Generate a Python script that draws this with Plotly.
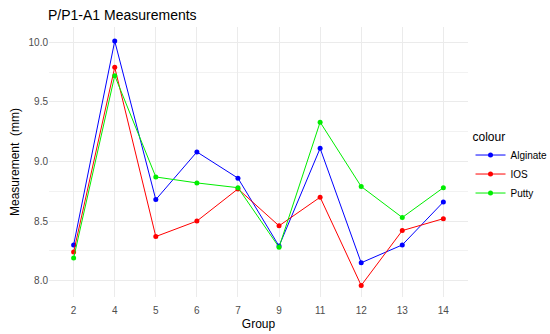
import plotly.graph_objects as go

groups = ["2", "4", "5", "6", "7", "9", "11", "12", "13", "14"]
alginate = [8.30, 10.01, 8.68, 9.08, 8.86, 8.29, 9.11, 8.15, 8.30, 8.66]
ios = [8.24, 9.79, 8.37, 8.50, 8.77, 8.46, 8.70, 7.96, 8.42, 8.52]
putty = [8.19, 9.72, 8.87, 8.82, 8.78, 8.28, 9.33, 8.79, 8.53, 8.78]

series = [("Alginate", alginate, "#0000ff"), ("IOS", ios, "#ff0000"), ("Putty", putty, "#00ee00")]

fig = go.Figure()
for name, vals, col in series:
    fig.add_trace(go.Scatter(x=groups, y=vals, name=name, mode="lines+markers",
                             line=dict(color=col, width=1),
                             marker=dict(color=col, size=5)))

fig.update_layout(
    width=550, height=334,
    margin=dict(l=49, r=82, t=27, b=37, autoexpand=False),
    paper_bgcolor="white", plot_bgcolor="white",
    font=dict(family="Liberation Sans, Arial, sans-serif", color="#000000"),
    title=dict(text="P/P1-A1 Measurements", x=48/550, xanchor="left", y=1-15/334, yanchor="middle",
               font=dict(size=14, color="#000000")),
    legend=dict(title=dict(text="colour", font=dict(size=12)),
                xref="container", yref="container",
                x=0.8555, xanchor="left", y=0.626, yanchor="top",
                font=dict(size=10), tracegroupgap=0, itemwidth=30),
    showlegend=True,
)
fig.update_xaxes(type="category", range=[-0.6, 9.6], showgrid=True, gridcolor="#ebebeb", gridwidth=1,
                 zeroline=False, showline=False, ticks="", tickfont=dict(size=10, color="#4d4d4d"),
                 ticklabelstandoff=6, automargin=False,
                 title=dict(text="Group", font=dict(size=12), standoff=4))
fig.update_yaxes(range=[7.863, 10.128], tickvals=[8.0, 8.5, 9.0, 9.5, 10.0],
                 ticktext=["8.0", "8.5", "9.0", "9.5", "10.0"],
                 showgrid=True, gridcolor="#ebebeb", gridwidth=1, zeroline=False, showline=False, ticks="",
                 tickfont=dict(size=10, color="#4d4d4d"), automargin=False,
                 minor=dict(tickvals=[8.25, 8.75, 9.25, 9.75], showgrid=True, gridcolor="#f2f2f2", gridwidth=0.5),
                 title=dict(text="Measurement  (mm)", font=dict(size=12), standoff=6))

fig.write_html("out.html", config={"displayModeBar": False},
               post_script="document.body.style.margin='0';")
